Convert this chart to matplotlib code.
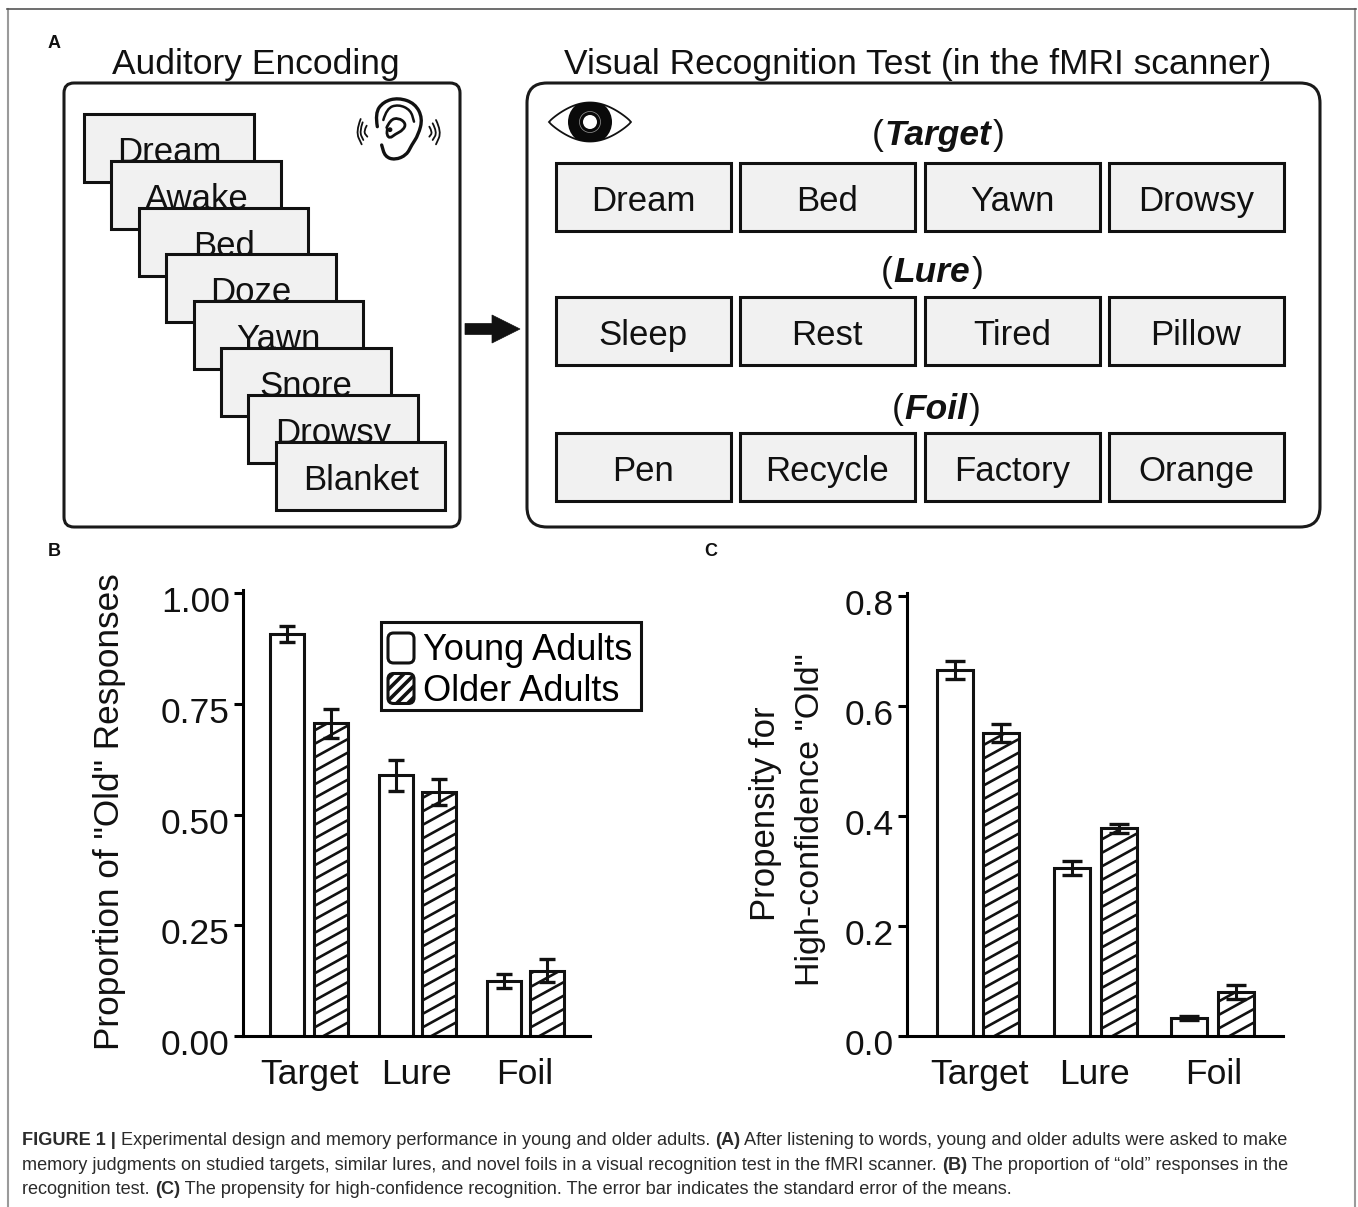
import matplotlib
matplotlib.use("Agg")
import matplotlib.pyplot as plt
from matplotlib.patches import FancyBboxPatch, Rectangle, Polygon, Circle, Ellipse, FancyArrow, PathPatch, Patch
from matplotlib.path import Path
from matplotlib.collections import LineCollection
from matplotlib.legend_handler import HandlerPatch
from matplotlib.transforms import IdentityTransform, ScaledTranslation
import numpy as np

plt.rcParams['font.family'] = ['Liberation Sans', 'DejaVu Sans']
plt.rcParams['hatch.linewidth'] = 2.6

W, H = 1358, 1207

# bar data
groups = ["Target", "Lure", "Foil"]
young_b = [0.907, 0.589, 0.124]
older_b = [0.706, 0.551, 0.147]
young_b_err = [0.018, 0.035, 0.016]
older_b_err = [0.033, 0.030, 0.026]
young_c = [0.665, 0.305, 0.033]
older_c = [0.551, 0.378, 0.080]
young_c_err = [0.016, 0.013, 0.004]
older_c_err = [0.016, 0.008, 0.013]
ticks_b = ["0.00", "0.25", "0.50", "0.75", "1.00"]
ticks_c = ["0.0", "0.2", "0.4", "0.6", "0.8"]

# diagram text
stack_words = ["Dream", "Awake", "Bed", "Doze", "Yawn", "Snore", "Drowsy", "Blanket"]
test_rows = [("Target", ["Dream", "Bed", "Yawn", "Drowsy"]),
             ("Lure", ["Sleep", "Rest", "Tired", "Pillow"]),
             ("Foil", ["Pen", "Recycle", "Factory", "Orange"])]

caption = [
    [("FIGURE 1 | ", True), ("Experimental design and memory performance in young and older adults. ", False),
     ("(A)", True), (" After listening to words, young and older adults were asked to make", False)],
    [("memory judgments on studied targets, similar lures, and novel foils in a visual recognition test in the fMRI scanner. ", False),
     ("(B)", True), (" The proportion of \u201cold\u201d responses in the", False)],
    [("recognition test. ", False), ("(C)", True),
     (" The propensity for high-confidence recognition. The error bar indicates the standard error of the means.", False)],
]

fig = plt.figure(figsize=(W / 100, H / 100), dpi=100)
bg = fig.add_axes([0, 0, 1, 1])
bg.set_xlim(0, W)
bg.set_ylim(H, 0)
bg.axis("off")

CARD = "#f1f1f1"
INK = "#111111"
LW = 2.2


def round_box(x0, y0, x1, y1, r):
    bg.add_patch(FancyBboxPatch((x0 + r, y0 + r), x1 - x0 - 2 * r, y1 - y0 - 2 * r,
                                boxstyle="round,pad=%d,rounding_size=%d" % (r, r), fc="white", ec="#1a1a1a", lw=LW))


def curve(points, x0, y0, lw):
    # smooth line through the midpoints, points are in 3x crop pixels
    p = np.array(points, float) / 3 + [x0, y0]
    verts = [p[0]]
    codes = [Path.MOVETO]
    for a, b in zip(p[1:-1], p[2:]):
        verts += [a, (a + b) / 2]
        codes += [Path.CURVE3, Path.CURVE3]
    verts += [p[-1]]
    codes += [Path.LINETO]
    bg.add_patch(PathPatch(Path(verts, codes), fc="none", ec=INK, lw=lw, capstyle="round", zorder=3))


# frame round the figure, open at the bottom
bg.plot([7.5, 7.5], [9, H], color="#9a9a9a", lw=1.5)
bg.plot([1355, 1355], [9, H], color="#9a9a9a", lw=1.5)
bg.plot([7, 1356], [9, 9], color="#555555", lw=1.2)

for lab, x, y in [("A", 48, 43), ("B", 48, 552), ("C", 704, 552)]:
    bg.text(x, y, lab, fontsize=13, fontweight="bold", ha="left", va="center", color=INK)

bg.text(256, 74, "Auditory Encoding", fontsize=25.5, ha="center", va="baseline", color=INK)
bg.text(918, 74, "Visual Recognition Test (in the fMRI scanner)", fontsize=25.5, ha="center", va="baseline", color=INK)

round_box(64, 83, 460, 527, 10)
round_box(527, 83, 1320, 527, 20)

# stacked cards, each one hides the lower part of the word before it
for i, word in enumerate(stack_words):
    x0 = 84 + i * 27.4
    y0 = 114 + i * 46.8
    bg.add_patch(Rectangle((x0, y0), 169.5, 68, fc=CARD, ec=INK, lw=LW, zorder=3 + 2 * i))
    bg.text(x0 + 85, y0 + 48, word, fontsize=25, ha="center", va="baseline", color=INK, zorder=4 + 2 * i)

# word grid on the right
col_x = [556, 740, 925, 1109]
row_y = [163, 297, 433]
head_x = [938, 932, 936]
head_y = [145, 282, 419]
for (name, words), y0, hx, hy in zip(test_rows, row_y, head_x, head_y):
    bold = bg.text(hx, hy, name, fontsize=25.5, fontweight="bold", fontstyle="italic", ha="center", va="baseline",
                   color=INK)
    fig.canvas.draw()
    ext = bold.get_window_extent()
    bg.text(ext.x0 - 1, hy, "(", fontsize=25.5, ha="right", va="baseline", color=INK)
    bg.text(ext.x1 + 1, hy, ")", fontsize=25.5, ha="left", va="baseline", color=INK)
    for x0, word in zip(col_x, words):
        bg.add_patch(Rectangle((x0, y0), 174.5, 68, fc=CARD, ec=INK, lw=LW))
        bg.text(x0 + 87, y0 + 48, word, fontsize=25, ha="center", va="baseline", color=INK)

# arrow between the boxes
bg.add_patch(FancyArrow(465, 329, 55, 0, width=11, head_width=28, head_length=28,
                        length_includes_head=True, fc=INK, ec=INK, lw=0.5))

# eye
t = np.linspace(0, 1, 40)
ex = 549 + 82 * t
upper = 122 - 19.5 * np.sin(np.pi * t) ** 0.85
lower = 122 + 19.5 * np.sin(np.pi * t) ** 0.85
lens = Polygon(np.r_[np.c_[ex, upper], np.c_[ex[::-1], lower[::-1]]], fc="white", ec=INK, lw=1.3)
bg.add_patch(lens)
iris = Ellipse((590, 122), 44, 44, fc="#0a0a0a", ec="none")
bg.add_patch(iris)
iris.set_clip_path(lens)
bg.add_patch(Circle((590, 122), 10.5, fc="none", ec="#9a9a9a", lw=0.5))
bg.add_patch(Circle((590, 122), 7, fc="white", ec="none"))

# ear
EAR_X, EAR_Y = 340, 85
curve([(112, 125), (105, 85), (130, 50), (175, 38), (225, 55), (248, 100), (235, 150), (215, 180),
       (200, 210), (165, 225), (135, 215), (125, 180)], EAR_X, EAR_Y, 2.4)
curve([(130, 105), (140, 70), (175, 58), (212, 75), (222, 110)], EAR_X, EAR_Y, 1.8)
curve([(140, 128), (150, 105), (175, 98), (198, 115), (190, 135), (165, 148), (150, 160), (140, 150), (142, 132)],
      EAR_X, EAR_Y, 2.0)
bg.add_patch(Circle((EAR_X + 50, EAR_Y + 44.7), 2.4, fc=INK, ec="none", zorder=3))
for arc in [[(80, 122), (70, 140), (82, 155)], [(68, 112), (58, 140), (70, 165)], [(62, 102), (47, 140), (65, 178)],
            [(268, 125), (278, 142), (268, 155)], [(278, 115), (292, 142), (278, 165)], [(288, 105), (305, 140), (288, 178)]]:
    curve(arc, EAR_X, EAR_Y, 1.3)


def add_stripes(ax, patch, spacing=13.5, slope=0.55):
    # hatch with the flatter angle of the figure, cut off by the bar
    box = patch.get_window_extent()
    span = box.width * slope
    offs = np.arange(box.y0 - span, box.y1 + spacing, spacing)
    segs = [[(box.x0, o), (box.x1, o + span)] for o in offs]
    lc = LineCollection(segs, colors=INK, linewidths=1.9, transform=IdentityTransform(), zorder=2.5)
    ax.add_collection(lc, autolim=False)
    lc.set_clip_path(patch)


def bar_panel(left, right, top, bottom, ymax, ymax_lim, young, older, y_err, o_err, ticks, xs, width, xt, cap):
    ax = fig.add_axes([left / W, 1 - bottom / H, (right - left) / W, (bottom - top) / H])
    ax.set_xlim(left, right)
    ax.set_ylim(0, ymax_lim)
    kw = dict(width=width, align="edge", lw=2.2, edgecolor=INK, facecolor="white", zorder=2)
    ax.bar(xs[0], young, **kw)
    older_bars = ax.bar(xs[1], older, **kw)
    for x, v, e in [(xs[0], young, y_err), (xs[1], older, o_err)]:
        ax.errorbar(np.array(x) + width / 2, v, yerr=e, fmt="none", ecolor=INK, elinewidth=2.2,
                    capsize=cap, capthick=2.4, zorder=3)
    ax.set_yticks(np.linspace(0, ymax, len(ticks)))
    ax.set_yticklabels(ticks, fontsize=25.5, color=INK)
    ax.set_xticks(xt)
    ax.set_xticklabels(groups, fontsize=25.5, color=INK)
    ax.tick_params(axis="x", length=0, pad=16)
    ax.tick_params(axis="y", length=6.5, width=2.2, pad=3)
    # numbers sit a little below their ticks in the figure
    shift = ScaledTranslation(0, -6 / 100, fig.dpi_scale_trans)
    for lab in ax.get_yticklabels():
        lab.set_transform(lab.get_transform() + shift)
    for s in ["top", "right"]:
        ax.spines[s].set_visible(False)
    for s in ["left", "bottom"]:
        ax.spines[s].set_linewidth(2.2)
    ax.patch.set_alpha(0)
    fig.canvas.draw()
    for p in older_bars:
        add_stripes(ax, p)
    return ax


xs_b = [[270, 379, 487], [314, 422, 530]]
ax_b = bar_panel(243, 590, 590, 1036, 1.0, 1.007, young_b, older_b, young_b_err, older_b_err, ticks_b, xs_b, 34,
                 [310, 417, 525], 5.8)
fig.text(110 / W, 1 - 812 / H, 'Proportion of "Old" Responses', rotation=90, fontsize=25.3, ha="center", va="center",
         color=INK)

xs_c = [[937, 1054, 1171], [983, 1101, 1218]]
ax_c = bar_panel(907, 1283, 593, 1036, 0.8, 0.8055, young_c, older_c, young_c_err, older_c_err, ticks_c, xs_c, 36,
                 [980, 1095, 1214], 7)
fig.text(766 / W, 1 - 814 / H, "Propensity for", rotation=90, fontsize=25, ha="center", va="center", color=INK)
fig.text(811 / W, 1 - 820 / H, 'High-confidence "Old"', rotation=90, fontsize=24.5, ha="center", va="center",
         color=INK)


def round_handle(legend, orig_handle, xdescent, ydescent, width, height, fontsize):
    return FancyBboxPatch((3 - xdescent, 3 - ydescent), width - 6, height - 6, boxstyle="round,pad=3,rounding_size=4")


# legend box drawn apart so the entries can sit lower in it, as in the figure
bg.add_patch(Rectangle((381, 622), 260, 88, fc="white", ec=INK, lw=2.2))
young_h = Patch(fc="white", ec=INK, lw=2.2, label="Young Adults")
older_h = Patch(fc="white", ec=INK, lw=2.2, hatch="///", label="Older Adults")
ax_b.legend(handles=[young_h, older_h], loc="upper left", bbox_to_anchor=((388 - 243) / 347, 1 - (633 - 590) / 446),
            fontsize=26, frameon=False, handlelength=0.72, handleheight=0.9, handletextpad=0.25, borderaxespad=0,
            borderpad=0, labelspacing=0.14, handler_map={Patch: HandlerPatch(patch_func=round_handle)})

# caption, runs of bold and regular text on each line
fig.canvas.draw()
rend = fig.canvas.get_renderer()
for line, y in zip(caption, [1145, 1170, 1194]):
    x = 22
    for s, b in line:
        t = bg.text(x, y, s, fontsize=13.05, fontweight="bold" if b else "normal", ha="left", va="baseline", color="#2b2b2b")
        x = t.get_window_extent(rend).x1

fig.savefig("out.png", dpi=100)
